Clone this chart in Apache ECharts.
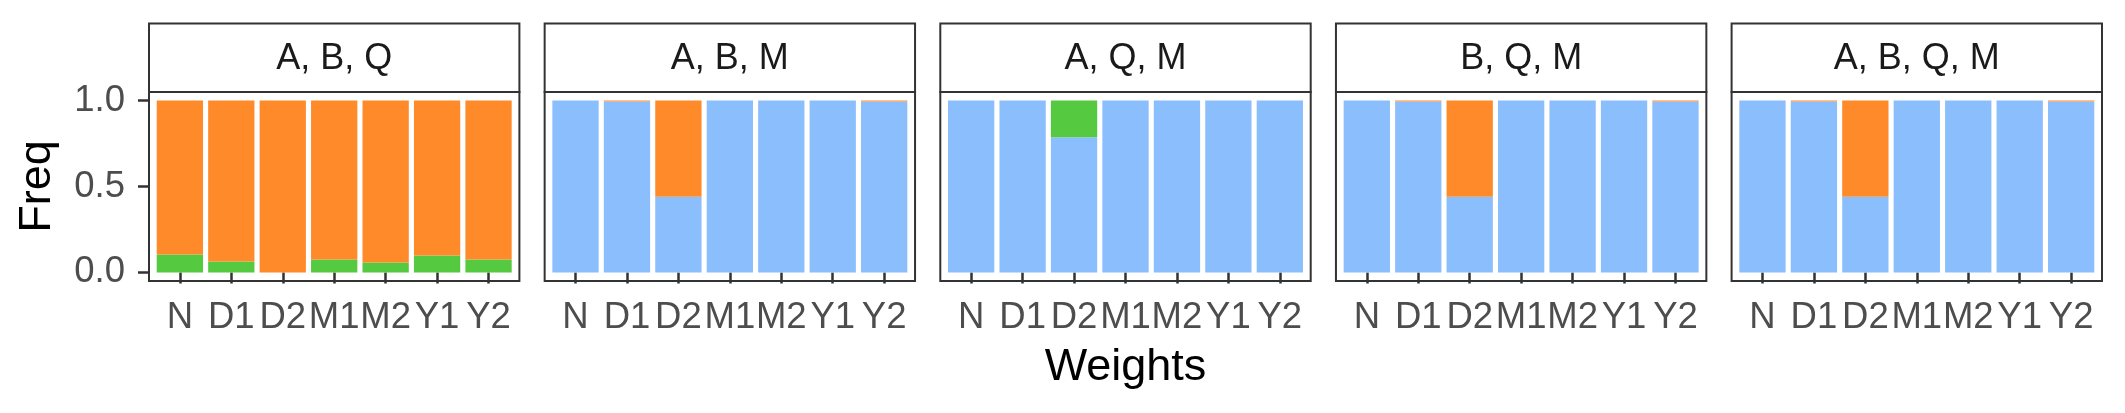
<!DOCTYPE html>
<html>
<head>
<meta charset="utf-8">
<script src="https://cdn.jsdelivr.net/npm/echarts@6/dist/echarts.min.js"></script>
<style>
html,body{margin:0;padding:0;background:#fff;}
#c{width:2125px;height:413px;}
</style>
</head>
<body>
<div id="c"></div>
<script>
// ---- data ----
const categories = ['N', 'D1', 'D2', 'M1', 'M2', 'Y1', 'Y2'];
const panelTitles = ['A, B, Q', 'A, B, M', 'A, Q, M', 'B, Q, M', 'A, B, Q, M'];
const yTicks = [0, 0.5, 1];
const yTickLabels = ['0.0', '0.5', '1.0'];

// panel "A, B, Q"
const abqBlue   = [0, 0, 0, 0, 0, 0, 0];
const abqGreen  = [0.104, 0.064, 0, 0.075, 0.058, 0.099, 0.075];
const abqOrange = [0.896, 0.936, 1, 0.925, 0.942, 0.901, 0.925];
// panel "A, B, M"
const abmBlue   = [1, 0.995, 0.441, 1, 1, 1, 0.995];
const abmGreen  = [0, 0, 0, 0, 0, 0, 0];
const abmOrange = [0, 0.005, 0.559, 0, 0, 0, 0.005];
// panel "A, Q, M"
const aqmBlue   = [1, 1, 0.787, 1, 1, 1, 1];
const aqmGreen  = [0, 0, 0.213, 0, 0, 0, 0];
const aqmOrange = [0, 0, 0, 0, 0, 0, 0];
// panel "B, Q, M"
const bqmBlue   = [1, 0.995, 0.441, 1, 1, 1, 0.995];
const bqmGreen  = [0, 0, 0, 0, 0, 0, 0];
const bqmOrange = [0, 0.005, 0.559, 0, 0, 0, 0.005];
// panel "A, B, Q, M"
const abqmBlue   = [1, 0.995, 0.441, 1, 1, 1, 0.995];
const abqmGreen  = [0, 0, 0, 0, 0, 0, 0];
const abqmOrange = [0, 0.005, 0.559, 0, 0, 0, 0.005];

const panelData = [
  [abqBlue, abqGreen, abqOrange],
  [abmBlue, abmGreen, abmOrange],
  [aqmBlue, aqmGreen, aqmOrange],
  [bqmBlue, bqmGreen, bqmOrange],
  [abqmBlue, abqmGreen, abqmOrange]
];
const seriesNames = ['blue', 'green', 'orange'];
const colors = ['#8BBEFD', '#55C940', '#FF8A2A'];

// ---- layout ----
const FONT = 'Liberation Sans, Arial, Helvetica, sans-serif';
const panelLeft0 = 149, panelStep = 395.65, panelW = 370.4;
const panelTop = 92, panelH = 189;
const stripTop = 23.5, stripH = 68.5;
const unit = panelW / (categories.length + 0.2);   // ggplot discrete expansion 0.6 each side
const inset = 0.1 * unit;

const grids = [], xAxes = [], yAxes = [], series = [], graphics = [];
panelTitles.forEach((t, i) => {
  const L = panelLeft0 + i * panelStep;
  grids.push({left: L + inset, top: panelTop, width: panelW - 2 * inset, height: panelH, containLabel: false});
  xAxes.push({
    type: 'category', gridIndex: i, data: categories, boundaryGap: true,
    axisLine: {show: false},
    axisTick: {show: true, alignWithLabel: true, interval: 0, length: 11, lineStyle: {color: '#333333', width: 2.5}},
    axisLabel: {show: true, interval: 0, margin: 18, color: '#4D4D4D', fontSize: 36.5, fontFamily: FONT},
    splitLine: {show: false}
  });
  yAxes.push({
    type: 'value', gridIndex: i, min: -0.05, max: 1.05, offset: inset,
    axisLine: {show: false},
    axisTick: {show: i === 0, length: 11, customValues: yTicks, lineStyle: {color: '#333333', width: 2.5}},
    axisLabel: {show: i === 0, customValues: yTicks, margin: 24, color: '#4D4D4D', fontSize: 36.5, fontFamily: FONT,
      formatter: v => yTickLabels[yTicks.indexOf(Math.round(v * 10) / 10)] ?? ''},
    splitLine: {show: false}
  });
  panelData[i].forEach((arr, k) => {
    series.push({
      type: 'bar', name: seriesNames[k], xAxisIndex: i, yAxisIndex: i, stack: 'p' + i,
      data: arr, barWidth: '90%', itemStyle: {color: colors[k]}, silent: true, animation: false
    });
  });
  // panel border
  graphics.push({type: 'rect', shape: {x: L, y: panelTop, width: panelW, height: panelH},
    style: {fill: null, stroke: '#333333', lineWidth: 2}, z: 100});
  // strip
  graphics.push({type: 'rect', shape: {x: L, y: stripTop, width: panelW, height: stripH},
    style: {fill: '#ffffff', stroke: '#333333', lineWidth: 2}, z: 100});
  graphics.push({type: 'text', x: L + panelW / 2, y: stripTop + stripH / 2 + 1.5,
    style: {text: t, fill: '#1A1A1A', font: '36px ' + FONT, textAlign: 'center', textVerticalAlign: 'middle'}, z: 101});
});
// axis titles
graphics.push({type: 'text', x: panelLeft0 + 2 * panelStep + panelW / 2, y: 368,
  style: {text: 'Weights', fill: '#000000', font: '45px ' + FONT, textAlign: 'center', textVerticalAlign: 'middle'}, z: 101});
graphics.push({type: 'text', x: 38, y: panelTop + panelH / 2, rotation: Math.PI / 2,
  style: {text: 'Freq', fill: '#000000', font: '45px ' + FONT, textAlign: 'center', textVerticalAlign: 'middle'}, z: 101});

const chart = echarts.init(document.getElementById('c'), null, {renderer: 'canvas'});
chart.setOption({
  animation: false,
  backgroundColor: '#ffffff',
  grid: grids, xAxis: xAxes, yAxis: yAxes, series: series, graphic: graphics
});
</script>
</body>
</html>
